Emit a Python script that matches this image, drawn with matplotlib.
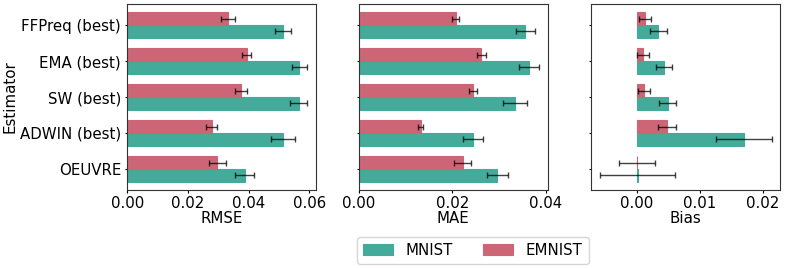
import numpy as np
import matplotlib.pyplot as plt

estimators = ["FFPreq (best)", "EMA (best)", "SW (best)", "ADWIN (best)", "OEUVRE"]

# values (mean, error half-width)
rmse_mnist = [0.0513, 0.0567, 0.0564, 0.0514, 0.0387]
rmse_mnist_err = [0.0026, 0.0026, 0.0029, 0.0040, 0.0032]
rmse_emnist = [0.0332, 0.0394, 0.0374, 0.0279, 0.0297]
rmse_emnist_err = [0.0023, 0.0015, 0.0020, 0.0018, 0.0028]

mae_mnist = [0.0356, 0.0364, 0.0334, 0.0244, 0.0296]
mae_mnist_err = [0.0021, 0.0021, 0.0025, 0.0022, 0.0023]
mae_emnist = [0.0207, 0.0262, 0.0244, 0.0132, 0.0222]
mae_emnist_err = [0.0008, 0.0009, 0.0008, 0.0006, 0.0018]

bias_mnist = [0.0034, 0.0043, 0.0049, 0.0170, 0.00015]
bias_mnist_err = [0.00135, 0.00125, 0.0013, 0.0044, 0.0060]
bias_emnist = [0.0014, 0.0010, 0.0012, 0.0048, 0.00005]
bias_emnist_err = [0.00095, 0.00095, 0.00095, 0.00145, 0.00285]

c_mnist = "#44AA99"
c_emnist = "#CC6677"

plt.rcParams["font.size"] = 10.8
plt.rcParams["xtick.major.size"] = 1.8
plt.rcParams["ytick.major.size"] = 1.8
plt.rcParams["xtick.major.pad"] = 2.5
plt.rcParams["ytick.major.pad"] = 2.5

fig = plt.figure(figsize=(7.85, 2.68), dpi=100)
lefts = [0.162, 0.457, 0.753]
w, b, h = 0.241, 0.291, 0.694

panels = [
    ("RMSE", rmse_mnist, rmse_mnist_err, rmse_emnist, rmse_emnist_err),
    ("MAE", mae_mnist, mae_mnist_err, mae_emnist, mae_emnist_err),
    ("Bias", bias_mnist, bias_mnist_err, bias_emnist, bias_emnist_err),
]

y = np.arange(len(estimators))
bh = 0.35
ekw = dict(ecolor="black", elinewidth=1.0, capsize=2.5, capthick=1.0, alpha=0.75)

for i, (name, m, me, e, ee) in enumerate(panels):
    ax = fig.add_axes([lefts[i], b, w, h])
    ax.barh(y + bh / 2, m, height=bh, xerr=me, color=c_mnist, edgecolor=c_mnist,
            linewidth=0.8, error_kw=ekw, label="MNIST")
    ax.barh(y - bh / 2, e, height=bh, xerr=ee, color=c_emnist, edgecolor=c_emnist,
            linewidth=0.8, error_kw=ekw, label="EMNIST")
    ax.set_yticks(y)
    ax.invert_yaxis()
    ax.set_xlabel(name, labelpad=0)
    for s in ax.spines.values():
        s.set_color("0.2")
    if i == 0:
        ax.set_yticklabels(estimators)
        ax.set_ylabel("Estimator", labelpad=2)
        ax.set_xticks([0, 0.02, 0.04, 0.06])
        handles, labels = ax.get_legend_handles_labels()
    else:
        ax.set_yticklabels([])
    if i == 1:
        ax.set_xticks([0, 0.02, 0.04])
    if i == 2:
        ax.set_xticks([0, 0.01, 0.02])
    ax.xaxis.set_major_formatter(plt.FormatStrFormatter("%.2f"))

fig.legend(handles, labels, loc="center", bbox_to_anchor=(0.6025, 0.067), ncol=2,
           frameon=True, handlelength=2.0, handletextpad=0.85, columnspacing=2.0,
           borderpad=0.4)

plt.savefig("out.png", dpi=100)
